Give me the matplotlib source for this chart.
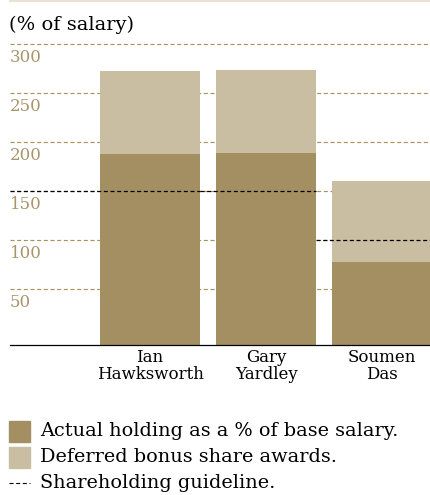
import matplotlib
matplotlib.use('Agg')
import matplotlib.pyplot as plt
import numpy as np
from matplotlib.patches import Rectangle
from matplotlib.lines import Line2D

plt.rcParams['font.family'] = ['DejaVu Serif']
plt.rcParams['lines.scale_dashes'] = False

# shareholding as % of base salary
names = ['Ian\nHawksworth', 'Gary\nYardley', 'Soumen\nDas']
actual = [188, 189, 77]
deferred = [84, 84, 83]
guideline = [150, 150, 100]
grid_values = [50, 100, 150, 200, 250, 300]

dark = '#A38F62'
light = '#C9BEA2'
tan = '#A6935F'
tick_col = '#A8956A'

W, H = 430, 495
fig = plt.figure(figsize=(W / 100, H / 100), dpi=100)
ax = fig.add_axes([10 / W, (H - 345.3) / H, 420 / W, (345.3 - 44) / H])

x = np.arange(len(names))
width = 100 / 116
xmin, xmax = -140 / 116, 280 / 116
floor = -7.8
ax.set_xlim(xmin, xmax)
ax.set_ylim(floor, 300)

# dashed gridlines behind the bars
ax.hlines(grid_values, xmin, xmax, colors=tan, lw=0.85,
          linestyles=(0, (2.9, 1.9)), zorder=1, clip_on=False, snap=True)

# bars sit on the baseline below zero
ax.bar(x, np.array(actual) - floor, width, bottom=floor, color=dark, zorder=2)
ax.bar(x, deferred, width, bottom=actual, color=light, zorder=2)

# guideline steps at each bar's right edge
edges = [xmin] + list(x[:-1] + width / 2) + [xmax]
for i, g in enumerate(guideline):
    ax.hlines(g, edges[i], edges[i + 1], colors='black', lw=0.9,
              linestyles=(0, (2.9, 1.9)), zorder=3, snap=True)

for v in grid_values:
    ax.annotate(str(v), xy=(0, v), xycoords=('axes fraction', 'data'),
                xytext=(0, -13), textcoords='offset points',
                ha='left', va='baseline', fontsize=12, color=tick_col)

for s in ['top', 'right', 'left']:
    ax.spines[s].set_visible(False)
ax.spines['bottom'].set_color('black')
ax.spines['bottom'].set_linewidth(0.9)
ax.set_yticks([])
ax.set_xticks(x)
ax.set_xticklabels(names, fontsize=12, linespacing=1.0)
ax.tick_params(axis='x', length=0, pad=3)

fig.text(9 / W, 1 - 25 / H, '(% of salary)', va='center', ha='left', fontsize=14)

# thin rule across the top
fig.add_artist(Line2D([10 / W, 1], [1 - 0.8 / H] * 2, color='#E8E2D4', lw=1.5))

# legend
legend_items = [
    (dark, 'Actual holding as a % of base salary.', 431.5),
    (light, 'Deferred bonus share awards.', 457.5),
]
for col, label, yc in legend_items:
    fig.add_artist(Rectangle((9 / W, 1 - (yc + 10.5) / H), 21 / W, 21 / H,
                             transform=fig.transFigure, color=col))
    fig.text(40 / W, 1 - yc / H, label, va='center', ha='left', fontsize=13.9)
fig.add_artist(Line2D([9 / W, 30 / W], [1 - 483 / H] * 2, color='black', lw=0.8,
                      linestyle=(0, (2.9, 1.9))))
fig.text(40 / W, 1 - 483 / H, 'Shareholding guideline.', va='center', ha='left', fontsize=13.9)

fig.savefig('out.png', dpi=100)
